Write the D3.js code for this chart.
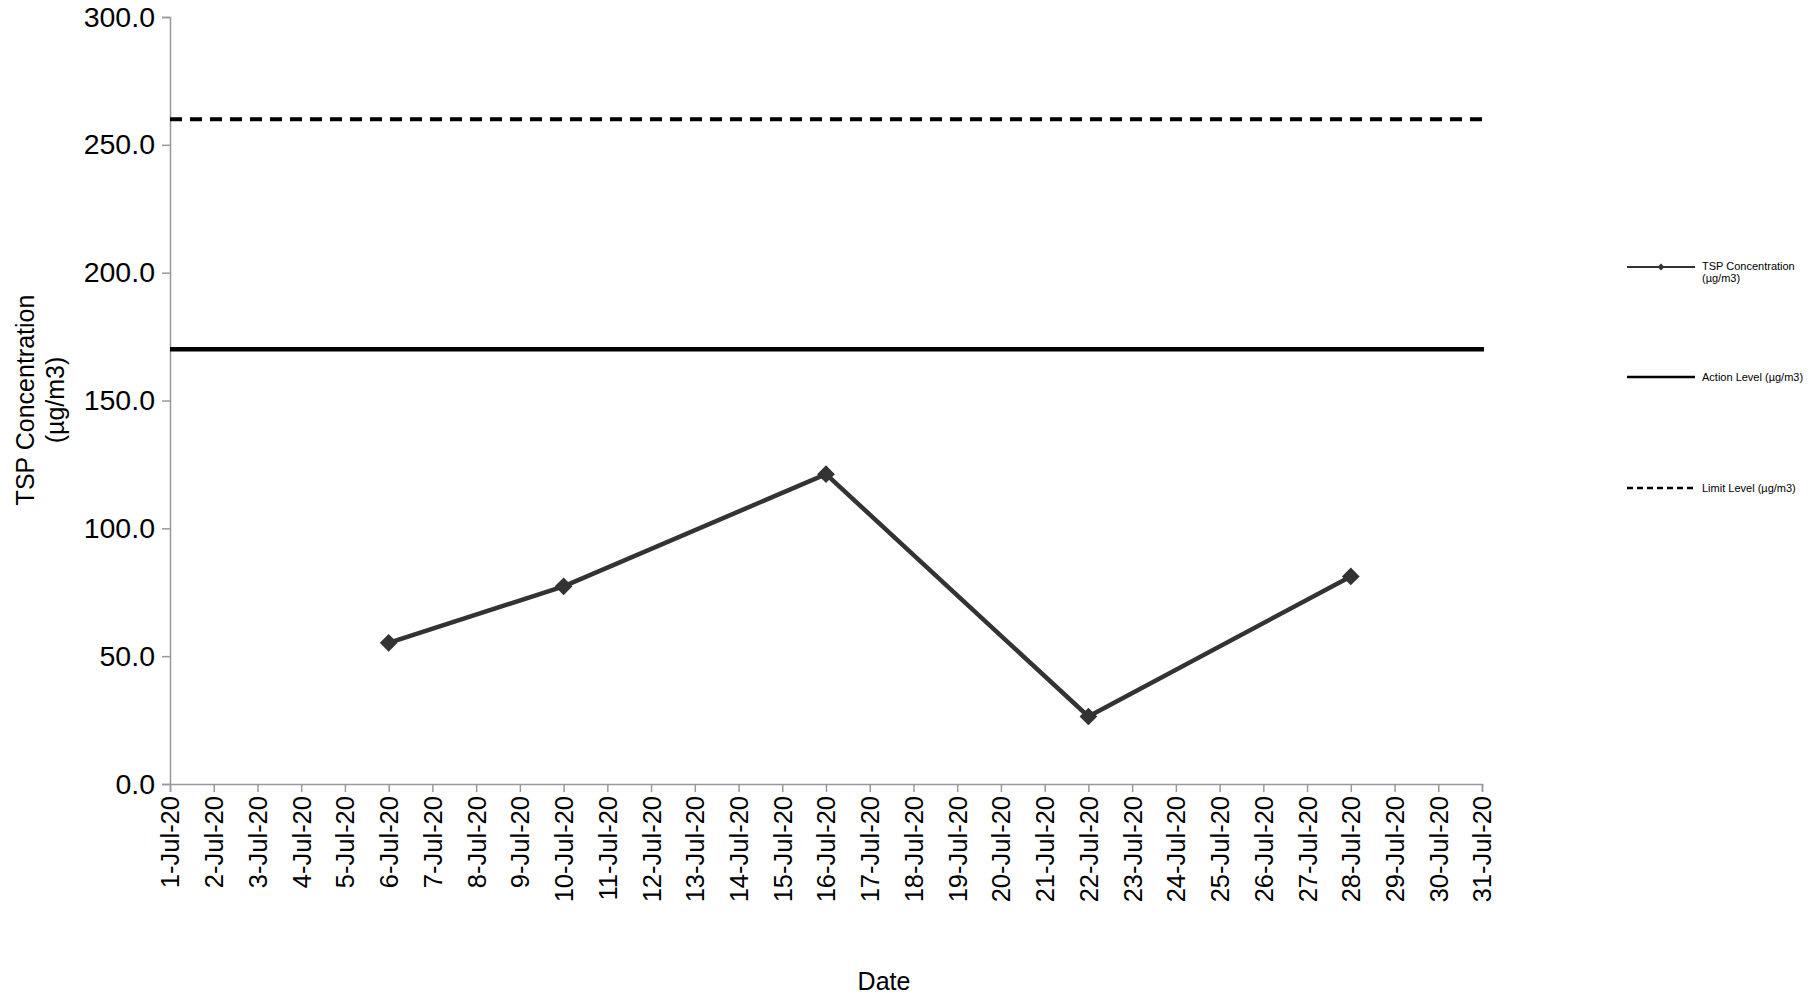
<!DOCTYPE html>
<html><head><meta charset="utf-8">
<script src="https://cdn.jsdelivr.net/npm/d3@7"></script>
<style>body{margin:0;background:#fff;font-family:"Liberation Sans",Arial,sans-serif;}</style>
</head><body><div id="chart"></div>
<script>
const days = d3.range(1, 32);
const tickLabels = days.map(d => d + "-Jul-20");
const sampleDays = [6, 10, 16, 22, 28];
const tspValues = [55.2, 77.3, 121.2, 26.4, 81.2];
const actionLevel = 170;
const limitLevel = 260;
const yTicks = [0, 50, 100, 150, 200, 250, 300];

const width = 1809, height = 1001;
const svg = d3.select("#chart").append("svg").attr("width", width).attr("height", height);
const x = d3.scaleLinear().domain([1, 31]).range([170, 1482]);
const y = d3.scaleLinear().domain([0, 300]).range([784, 17]);

const yAxis = svg.append("g").attr("transform", "translate(170,0)")
  .call(d3.axisLeft(y).tickValues(yTicks).tickFormat(d3.format(".1f")).tickSize(8));
yAxis.selectAll("text").attr("font-size", 28.5).attr("fill", "#000").attr("dx", -4).attr("font-family", "Liberation Sans, Arial");
yAxis.selectAll("line,path").attr("stroke", "#999").attr("stroke-width", 1.5);

const xAxis = svg.append("g").attr("transform", "translate(0,784)")
  .call(d3.axisBottom(x).tickValues(days).tickFormat((d, i) => tickLabels[i]).tickSize(8));
xAxis.selectAll("line,path").attr("stroke", "#999").attr("stroke-width", 1.5);
xAxis.selectAll("text").attr("font-size", 25.5).attr("fill", "#000").attr("font-family", "Liberation Sans, Arial")
  .attr("transform", "rotate(-90)").attr("text-anchor", "end").attr("x", -12).attr("y", 0).attr("dy", "0.35em");

const x0 = 170, x1 = 1484;
svg.append("line").attr("x1", x0).attr("x2", x1).attr("y1", y(limitLevel)).attr("y2", y(limitLevel))
  .attr("stroke", "#000").attr("stroke-width", 4).attr("stroke-dasharray", "12,8");
svg.append("line").attr("x1", x0).attr("x2", x1).attr("y1", y(actionLevel)).attr("y2", y(actionLevel))
  .attr("stroke", "#000").attr("stroke-width", 4.5);

const pts = sampleDays.map((d, i) => [d, tspValues[i]]);
svg.append("path").datum(pts)
  .attr("d", d3.line().x(d => x(d[0])).y(d => y(d[1])))
  .attr("fill", "none").attr("stroke", "#333").attr("stroke-width", 4.5);
svg.selectAll(".pt").data(pts).enter().append("path")
  .attr("transform", d => `translate(${x(d[0])},${y(d[1])})`)
  .attr("d", d3.symbol(d3.symbolDiamond2, 200)).attr("fill", "#333");

svg.append("text").attr("transform", "translate(884,990)").attr("text-anchor", "middle")
  .attr("font-size", 25).text("Date");
const yt = svg.append("text").attr("transform", "translate(34,400) rotate(-90)").attr("text-anchor", "middle").attr("font-size", 25);
yt.append("tspan").attr("x", 0).attr("dy", 0).text("TSP Concentration");
yt.append("tspan").attr("x", 0).attr("dy", 30).text("(µg/m3)");

// legend
const leg = svg.append("g").attr("font-size", 11);
const ly = [267, 377, 488];
leg.append("line").attr("x1", 1627).attr("x2", 1695).attr("y1", ly[0]).attr("y2", ly[0]).attr("stroke", "#333").attr("stroke-width", 2);
leg.append("path").attr("transform", `translate(1661,${ly[0]})`).attr("d", d3.symbol(d3.symbolDiamond2, 30)).attr("fill", "#333");
leg.append("line").attr("x1", 1627).attr("x2", 1695).attr("y1", ly[1]).attr("y2", ly[1]).attr("stroke", "#000").attr("stroke-width", 2.5);
leg.append("line").attr("x1", 1627).attr("x2", 1695).attr("y1", ly[2]).attr("y2", ly[2]).attr("stroke", "#000").attr("stroke-width", 2.5).attr("stroke-dasharray", "6,4");
const t0 = leg.append("text").attr("x", 1702).attr("y", ly[0] + 3);
t0.append("tspan").text("TSP Concentration");
t0.append("tspan").attr("x", 1702).attr("dy", 12).text("(µg/m3)");
leg.append("text").attr("x", 1702).attr("y", ly[1] + 4).text("Action Level (µg/m3)");
leg.append("text").attr("x", 1702).attr("y", ly[2] + 4).text("Limit Level (µg/m3)");
</script></body></html>
